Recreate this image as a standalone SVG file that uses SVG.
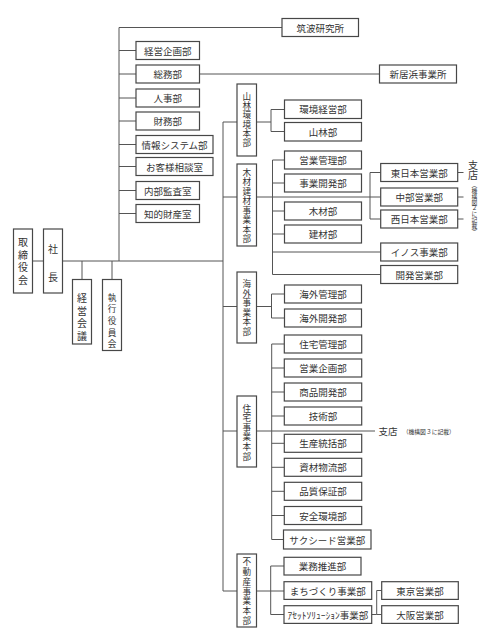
<svg xmlns="http://www.w3.org/2000/svg" width="500" height="631" viewBox="0 0 500 631">
<style>
.b{fill:#fff;stroke:#474747;stroke-width:1.2}
.c{fill:none;stroke:#555;stroke-width:1}
.t{font-family:"Noto Sans CJK JP","Noto Sans CJK SC",sans-serif;font-size:9.5px;fill:#333;text-anchor:middle;dominant-baseline:central}
.v{font-family:"Noto Sans CJK JP","Noto Sans CJK SC",sans-serif;font-size:10px;fill:#333;text-anchor:middle;dominant-baseline:central}
.h{font-family:"Noto Sans CJK JP","Noto Sans CJK SC",sans-serif;font-size:8.6px;fill:#333;text-anchor:middle;dominant-baseline:central}
.s{font-family:"Noto Sans CJK JP","Noto Sans CJK SC",sans-serif;font-size:5.8px;fill:#333;dominant-baseline:central}
</style>
<rect width="500" height="631" fill="#fff"/>
<g id="connectors" class="c">
<path d="M119,27.5V261M119,27.5H282M119,50.5H136M119,74H136M119,98H136M119,121H136M119,144.5H136M119,166.5H136M119,190.5H136M119,213.5H136"/>
<path d="M199.5,74H379.5"/>
<path d="M32.5,261H43.5M62.5,261H223M82,261V279.5M112,261V279.5"/>
<path d="M223,122V591M223,122H237M223,197H237M223,306.5H237M223,431H237M223,591H237"/>
<path d="M256.5,122H271M271,109.5V131.5M271,109.5H284.5M271,131.5H284.5"/>
<path d="M256.5,197H380.7M272.5,160V274.5M272.5,160H284.5M272.5,183H284.5M272.5,211H284.5M272.5,234H284.5M272.5,252H380.7M272.5,274.5H380.7M370,172.5V219M370,172.5H380.7M370,219H380.7"/>
<path d="M457.7,172.5H463.5M457.7,197H463.5M457.7,219H463.5"/>
<path d="M256.5,306.5H271.5M271.5,294V318M271.5,294H284.5M271.5,318H284.5"/>
<path d="M256.5,431H375M271.7,344V539.5M271.7,344H284.3M271.7,368H284.3M271.7,392H284.3M271.7,416H284.3M271.7,443.3H284.3M271.7,467.3H284.3M271.7,491.3H284.3M271.7,515.5H284.3M271.7,539.5H283.5"/>
<path d="M256.5,591H284M270.7,566V614.5M270.7,566H284M270.7,614.5H284M371.7,614.5H376.7M376.7,590.5V614.5M376.7,590.5H381.7M376.7,614.5H381.7"/>
</g>
<g id="tsukuba"><rect class="b" x="282" y="18.5" width="76.5" height="18"/><text class="t" x="320.25" y="27.5">筑波研究所</text></g>
<g id="keiei-kikaku"><rect class="b" x="136" y="41.5" width="63.5" height="18"/><text class="t" x="167.75" y="50.5">経営企画部</text></g>
<g id="somu"><rect class="b" x="136" y="65" width="63.5" height="18"/><text class="t" x="167.75" y="74">総務部</text></g>
<g id="jinji"><rect class="b" x="136" y="89" width="63.5" height="18"/><text class="t" x="167.75" y="98">人事部</text></g>
<g id="zaimu"><rect class="b" x="136" y="112" width="63.5" height="18"/><text class="t" x="167.75" y="121">財務部</text></g>
<g id="joho"><rect class="b" x="136" y="135.5" width="77" height="18"/><text class="t" x="174.5" y="144.5">情報システム部</text></g>
<g id="okyakusama"><rect class="b" x="136" y="157.5" width="77" height="18"/><text class="t" x="174.5" y="166.5">お客様相談室</text></g>
<g id="naibu"><rect class="b" x="136" y="181.5" width="63.5" height="18"/><text class="t" x="167.75" y="190.5">内部監査室</text></g>
<g id="chiteki"><rect class="b" x="136" y="204.5" width="63.5" height="18"/><text class="t" x="167.75" y="213.5">知的財産室</text></g>
<g id="niihama"><rect class="b" x="379.5" y="65" width="77" height="18"/><text class="t" x="418" y="74">新居浜事業所</text></g>
<g id="torishimariyaku"><rect class="b" x="13.5" y="229" width="19" height="64"/><text class="v"><tspan x="23" y="241">取</tspan><tspan x="23" y="253.5">締</tspan><tspan x="23" y="266">役</tspan><tspan x="23" y="278.5">会</tspan></text></g>
<g id="shacho"><rect class="b" x="43.5" y="229" width="19" height="64"/><text class="v"><tspan x="53" y="247.5">社</tspan><tspan x="53" y="276">長</tspan></text></g>
<g id="keiei-kaigi"><rect class="b" x="72.5" y="279.5" width="19" height="64.5"/><text class="v"><tspan x="82" y="297">経</tspan><tspan x="82" y="309.7">営</tspan><tspan x="82" y="322.3">会</tspan><tspan x="82" y="335">議</tspan></text></g>
<g id="shikko"><rect class="b" x="102.5" y="279.5" width="19" height="71"/><text class="h" font-size="9.5"><tspan x="112" y="296.7">執</tspan><tspan x="112" y="308.3">行</tspan><tspan x="112" y="320">役</tspan><tspan x="112" y="331.7">員</tspan><tspan x="112" y="343.3">会</tspan></text></g>
<g id="sanrin-hq"><rect class="b" x="237" y="84" width="19.5" height="72"/><text class="h"><tspan x="246.75" y="96">山</tspan><tspan x="246.75" y="105.2">林</tspan><tspan x="246.75" y="114.4">環</tspan><tspan x="246.75" y="123.6">境</tspan><tspan x="246.75" y="132.8">本</tspan><tspan x="246.75" y="142">部</tspan></text></g>
<g id="kankyo-keiei"><rect class="b" x="284.5" y="100" width="77" height="18.5"/><text class="t" x="323" y="109.25">環境経営部</text></g>
<g id="sanrin"><rect class="b" x="284.5" y="122.5" width="77" height="18.5"/><text class="t" x="323" y="131.75">山林部</text></g>
<g id="mokuzai-hq"><rect class="b" x="237" y="164" width="19.5" height="82"/><text class="h"><tspan x="246.75" y="171.7">木</tspan><tspan x="246.75" y="181.2">材</tspan><tspan x="246.75" y="190.7">建</tspan><tspan x="246.75" y="200.2">材</tspan><tspan x="246.75" y="209.7">事</tspan><tspan x="246.75" y="219.2">業</tspan><tspan x="246.75" y="228.7">本</tspan><tspan x="246.75" y="238.2">部</tspan></text></g>
<g id="eigyo-kanri"><rect class="b" x="284.5" y="151" width="77" height="18"/><text class="t" x="323" y="160">営業管理部</text></g>
<g id="jigyo-kaihatsu"><rect class="b" x="284.5" y="174" width="77" height="18"/><text class="t" x="323" y="183">事業開発部</text></g>
<g id="mokuzai"><rect class="b" x="284.5" y="202" width="77" height="18"/><text class="t" x="323" y="211">木材部</text></g>
<g id="kenzai"><rect class="b" x="284.5" y="225" width="77" height="18"/><text class="t" x="323" y="234">建材部</text></g>
<g id="higashi"><rect class="b" x="380.7" y="163.5" width="77" height="18"/><text class="t" x="419.2" y="172.5">東日本営業部</text></g>
<g id="chubu"><rect class="b" x="380.7" y="188" width="77" height="18"/><text class="t" x="419.2" y="197">中部営業部</text></g>
<g id="nishi"><rect class="b" x="380.7" y="210" width="77" height="18"/><text class="t" x="419.2" y="219">西日本営業部</text></g>
<g id="inos"><rect class="b" x="380.7" y="243" width="77" height="18"/><text class="t" x="419.2" y="252">イノス事業部</text></g>
<g id="kaihatsu-eigyo"><rect class="b" x="380.7" y="265.5" width="77" height="18"/><text class="t" x="419.2" y="274.5">開発営業部</text></g>
<g id="shiten-1"><text class="v"><tspan x="473" y="163.5">支</tspan><tspan x="473" y="174">店</tspan></text><text class="s" x="474.5" y="182" writing-mode="vertical-rl">（機構図２に記載）</text></g>
<g id="kaigai-hq"><rect class="b" x="237" y="272" width="19.5" height="71"/><text class="h"><tspan x="246.75" y="283.3">海</tspan><tspan x="246.75" y="292.8">外</tspan><tspan x="246.75" y="302.3">事</tspan><tspan x="246.75" y="311.8">業</tspan><tspan x="246.75" y="321.3">本</tspan><tspan x="246.75" y="330.8">部</tspan></text></g>
<g id="kaigai-kanri"><rect class="b" x="284.5" y="285" width="77" height="18"/><text class="t" x="323" y="294">海外管理部</text></g>
<g id="kaigai-kaihatsu"><rect class="b" x="284.5" y="309" width="77" height="18"/><text class="t" x="323" y="318">海外開発部</text></g>
<g id="jutaku-hq"><rect class="b" x="237" y="396" width="19.5" height="71"/><text class="h"><tspan x="246.75" y="407.5">住</tspan><tspan x="246.75" y="417.1">宅</tspan><tspan x="246.75" y="426.7">事</tspan><tspan x="246.75" y="436.3">業</tspan><tspan x="246.75" y="445.9">本</tspan><tspan x="246.75" y="455.5">部</tspan></text></g>
<g id="jutaku-kanri"><rect class="b" x="284.3" y="335" width="77.4" height="18"/><text class="t" x="323" y="344">住宅管理部</text></g>
<g id="eigyo-kikaku"><rect class="b" x="284.3" y="359" width="77.4" height="18"/><text class="t" x="323" y="368">営業企画部</text></g>
<g id="shohin"><rect class="b" x="284.3" y="383" width="77.4" height="18"/><text class="t" x="323" y="392">商品開発部</text></g>
<g id="gijutsu"><rect class="b" x="284.3" y="407" width="77.4" height="18"/><text class="t" x="323" y="416">技術部</text></g>
<g id="seisan"><rect class="b" x="284.3" y="434.3" width="77.4" height="18"/><text class="t" x="323" y="443.3">生産統括部</text></g>
<g id="shizai"><rect class="b" x="284.3" y="458.3" width="77.4" height="18"/><text class="t" x="323" y="467.3">資材物流部</text></g>
<g id="hinshitsu"><rect class="b" x="284.3" y="482.3" width="77.4" height="18"/><text class="t" x="323" y="491.3">品質保証部</text></g>
<g id="anzen"><rect class="b" x="284.3" y="506.5" width="77.4" height="18"/><text class="t" x="323" y="515.5">安全環境部</text></g>
<g id="succeed"><rect class="b" x="283.5" y="530" width="87.5" height="19"/><text class="t" x="327.25" y="539.5">サクシード営業部</text></g>
<g id="shiten-2"><text class="t" x="388" y="431" font-size="10">支店</text><text class="s" x="402.7" y="431">（機構図３に記載）</text></g>
<g id="fudosan-hq"><rect class="b" x="237" y="554" width="19.5" height="73"/><text class="h"><tspan x="246.75" y="561.4">不</tspan><tspan x="246.75" y="571.1">動</tspan><tspan x="246.75" y="580.8">産</tspan><tspan x="246.75" y="590.5">事</tspan><tspan x="246.75" y="600.2">業</tspan><tspan x="246.75" y="609.9">本</tspan><tspan x="246.75" y="619.6">部</tspan></text></g>
<g id="gyomu"><rect class="b" x="284" y="557.3" width="77" height="17.7"/><text class="t" x="322.5" y="566.1">業務推進部</text></g>
<g id="machi"><rect class="b" x="284" y="581.7" width="87.7" height="17.7"/><text class="t" x="327.85" y="590.5">まちづくり事業部</text></g>
<g id="asset"><rect class="b" x="284" y="605.7" width="87.7" height="17.7"/><text class="t" x="327.85" y="614.5">ｱｾｯﾄｿﾘｭｰｼｮﾝ事業部</text></g>
<g id="tokyo"><rect class="b" x="381.7" y="581.7" width="76.6" height="17.7"/><text class="t" x="420" y="590.5">東京営業部</text></g>
<g id="osaka"><rect class="b" x="381.7" y="605.7" width="76.6" height="17.7"/><text class="t" x="420" y="614.5">大阪営業部</text></g>
</svg>
